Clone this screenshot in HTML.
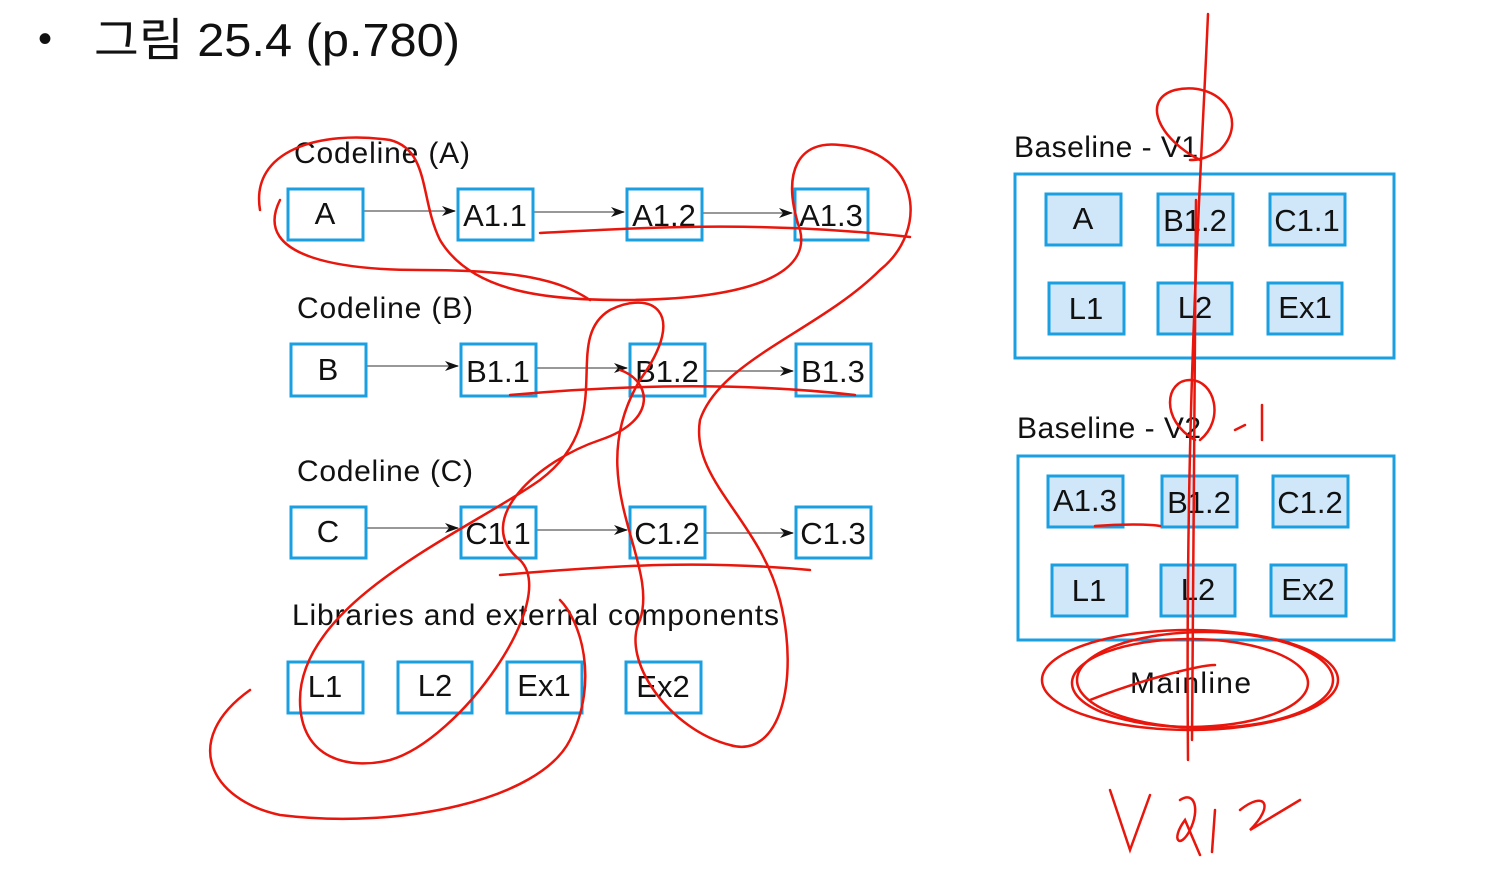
<!DOCTYPE html>
<html><head><meta charset="utf-8"><style>
html,body{margin:0;padding:0;background:#fff;width:1501px;height:871px;overflow:hidden}
svg{display:block}
text{font-family:"Liberation Sans","Noto Sans CJK KR",sans-serif;fill:#111}
</style></head><body>
<svg width="1501" height="871" viewBox="0 0 1501 871" xmlns="http://www.w3.org/2000/svg">
<defs><marker id="ar" markerWidth="14" markerHeight="10" refX="13" refY="5" orient="auto" markerUnits="userSpaceOnUse"><path d="M0,0 L14,5 L0,10 L4,5z" fill="#111"/></marker></defs>
<text x="38" y="52" font-size="40">•</text>
<text x="94" y="56" font-size="46" textLength="366" lengthAdjust="spacingAndGlyphs">그림 25.4 (p.780)</text>
<g font-size="30">
<text x="294" y="163" textLength="176">Codeline (A)</text>
<text x="297" y="318" textLength="176">Codeline (B)</text>
<text x="297" y="481" textLength="176">Codeline (C)</text>
<text x="292" y="625" textLength="487">Libraries and external components</text>
<text x="1014" y="157" textLength="184">Baseline - V1</text>
<text x="1017" y="438" textLength="184">Baseline - V2</text>
<text x="1130" y="693" textLength="121">Mainline</text>
</g>
<g stroke="#777" stroke-width="1.5" marker-end="url(#ar)">
<line x1="363" y1="211" x2="455" y2="211"/><line x1="533" y1="212" x2="624" y2="212"/><line x1="702" y1="213" x2="792" y2="213"/>
<line x1="366" y1="366" x2="458" y2="366"/><line x1="536" y1="368" x2="627" y2="368"/><line x1="705" y1="371" x2="793" y2="371"/>
<line x1="366" y1="528" x2="458" y2="528"/><line x1="536" y1="530" x2="627" y2="530"/><line x1="705" y1="533" x2="793" y2="533"/>
</g>
<g fill="#fff" stroke="#1a9fe0" stroke-width="3">
<rect x="288" y="189" width="75" height="51"/><rect x="458" y="189" width="75" height="51"/><rect x="627" y="189" width="75" height="51"/><rect x="795" y="189" width="73" height="51"/>
<rect x="291" y="344" width="75" height="52"/><rect x="461" y="344" width="75" height="52"/><rect x="630" y="344" width="75" height="52"/><rect x="796" y="344" width="75" height="52"/>
<rect x="291" y="507" width="75" height="51"/><rect x="461" y="507" width="75" height="51"/><rect x="630" y="507" width="75" height="51"/><rect x="796" y="507" width="75" height="51"/>
<rect x="288" y="662" width="75" height="51"/><rect x="398" y="662" width="74" height="51"/><rect x="507" y="662" width="75" height="51"/><rect x="626" y="662" width="75" height="51"/>
<rect x="1015" y="174" width="379" height="184"/><rect x="1018" y="456" width="376" height="184"/>
</g>
<g fill="#cfe7f8" stroke="#1a9fe0" stroke-width="3">
<rect x="1046" y="194" width="75" height="51"/><rect x="1158" y="194" width="75" height="51"/><rect x="1270" y="194" width="75" height="51"/>
<rect x="1049" y="283" width="75" height="51"/><rect x="1158" y="283" width="74" height="51"/><rect x="1268" y="283" width="74" height="51"/>
<rect x="1048" y="476" width="75" height="51"/><rect x="1162" y="476" width="75" height="51"/><rect x="1273" y="476" width="75" height="51"/>
<rect x="1052" y="565" width="75" height="51"/><rect x="1161" y="565" width="74" height="51"/><rect x="1271" y="565" width="75" height="51"/>
</g>
<g font-size="31" text-anchor="middle">
<text x="325" y="224">A</text><text x="495" y="226">A1.1</text><text x="664" y="226">A1.2</text><text x="831" y="226">A1.3</text>
<text x="328" y="380">B</text><text x="498" y="382">B1.1</text><text x="667" y="382">B1.2</text><text x="833" y="382">B1.3</text>
<text x="328" y="542">C</text><text x="498" y="544">C1.1</text><text x="667" y="544">C1.2</text><text x="833" y="544">C1.3</text>
<text x="325" y="697">L1</text><text x="435" y="696">L2</text><text x="544" y="696">Ex1</text><text x="663" y="697">Ex2</text>
<text x="1083" y="229">A</text><text x="1195" y="231">B1.2</text><text x="1307" y="231">C1.1</text>
<text x="1086" y="319">L1</text><text x="1195" y="318">L2</text><text x="1305" y="318">Ex1</text>
<text x="1085" y="511">A1.3</text><text x="1199" y="513">B1.2</text><text x="1310" y="513">C1.2</text>
<text x="1089" y="601">L1</text><text x="1198" y="600">L2</text><text x="1308" y="600">Ex2</text>
</g>
<g fill="none" stroke="#e8160c" stroke-width="2.5" stroke-linecap="round">
<path d="M1208,14 C1200,200 1185,400 1188,760"/>
<path d="M1196,200 C1195,400 1192,600 1192,740"/>
<path d="M1200,160 C1160,140 1140,100 1175,90 C1220,80 1250,120 1220,150 C1205,160 1195,160 1190,160"/>
<path d="M1195,440 C1160,420 1165,380 1190,380 C1215,380 1225,420 1200,440"/>
<ellipse cx="1190" cy="680" rx="148" ry="50"/>
<ellipse cx="1190" cy="683" rx="118" ry="44"/>
<ellipse cx="1205" cy="680" rx="128" ry="48"/>
<path d="M1090,700 C1140,680 1200,665 1215,665"/>
<path d="M1110,790 L1130,850 L1150,795"/>
<path d="M1180,800 C1195,790 1200,810 1190,830 C1180,850 1170,840 1185,820 L1200,855"/>
<path d="M1240,810 C1265,790 1275,805 1250,830 L1300,800"/>
<path d="M1215,810 L1212,852"/>
<path d="M1235,430 L1245,425 M1262,405 L1262,440"/>
<path d="M260,210 C250,150 320,130 390,140 C430,150 420,200 440,240 C470,290 540,300 620,300 C760,300 810,270 800,230 C780,170 800,140 840,145 C920,150 930,230 880,270 C820,330 720,360 700,420 C690,480 760,520 780,600 C800,680 780,760 730,745 C670,730 620,660 640,620 C660,560 580,480 640,380 C690,310 650,290 610,310 C560,340 620,420 540,480 C470,530 300,600 300,700 C300,760 350,770 390,760 C460,740 560,600 520,560 C470,520 540,460 600,440 C660,420 650,380 620,370"/>
<path d="M280,200 C250,260 350,270 420,270 C520,270 560,280 590,300"/>
<path d="M250,690 C180,740 210,800 280,815 C400,830 540,800 570,740 C600,680 580,620 560,600"/>
<path d="M500,575 C620,565 700,560 810,570"/>
<path d="M510,395 C620,385 740,382 855,395"/>
<path d="M540,233 C640,228 760,220 910,237"/>
<path d="M1095,526 C1120,524 1150,524 1160,526"/>
</g>
</svg>
</body></html>
